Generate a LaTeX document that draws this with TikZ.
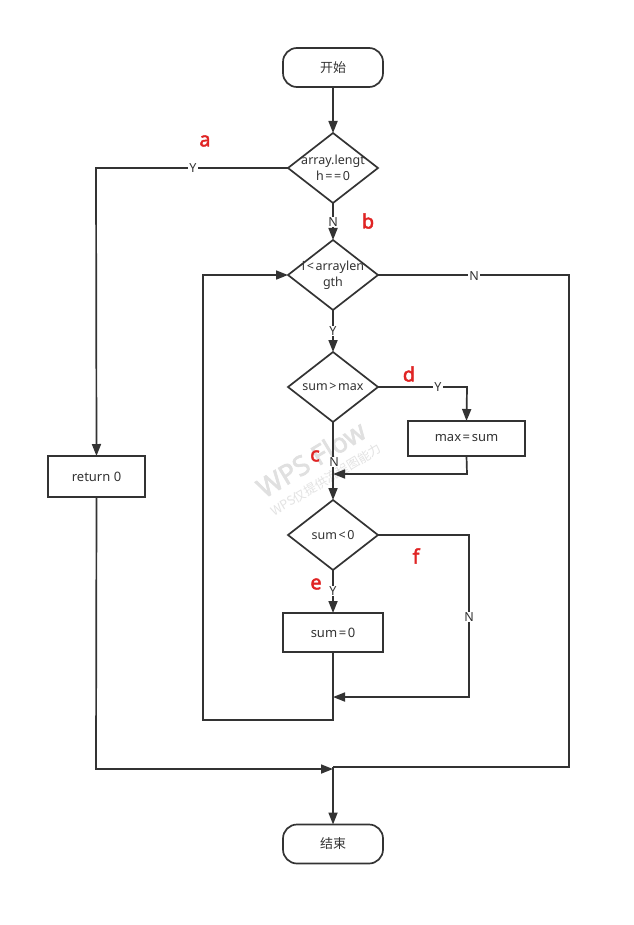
\documentclass[tikz,border=0pt]{standalone}
\usepackage{fontspec}
\setmainfont{Noto Sans}
\newfontfamily\cjk{Noto Sans CJK SC}
\newfontfamily\heavy{Noto Sans}[FakeBold=2.2]
\usetikzlibrary{shapes.geometric,arrows.meta}
\definecolor{ln}{HTML}{333333}
\definecolor{rd}{HTML}{E02424}
\newcommand{\opsp}[1]{\kern1.6pt#1\kern1.6pt}
\begin{document}
\begin{tikzpicture}[x=1pt,y=-1pt,
  every path/.style={draw=ln,line width=1.7pt},
  arr/.style={-{Triangle[length=12pt,width=9pt]}},
  term/.style={draw=ln,line width=1.7pt,rounded corners=14pt,minimum width=100pt,minimum height=39pt,inner sep=0pt,outer sep=0pt,font=\cjk\fontsize{13}{14}\selectfont,text=ln},
  proc/.style={draw=ln,line width=1.7pt,minimum height=39pt,inner sep=0pt,outer sep=0pt,font=\fontsize{13}{14}\selectfont,text=ln},
  dia/.style={draw=ln,line width=1.7pt,diamond,minimum width=90pt,minimum height=70pt,inner sep=0pt,outer sep=0pt},
  dtxt/.style={draw=none,align=center,font=\fontsize{12.5}{16}\selectfont,text=ln,inner sep=0pt},
  lab/.style={draw=none,fill=white,inner sep=1pt,font=\fontsize{12.5}{14}\selectfont,text=ln},
  red/.style={draw=none,text=rd,font=\heavy\fontsize{20}{21}\selectfont,inner sep=0pt},
  wm/.style={draw=none,rotate=31,inner sep=0pt}
]
\useasboundingbox[fill=white,draw=none] (0,0) rectangle (633,925);

% watermark
\node[wm,text=black!12,font=\heavy\fontsize{27}{28}\selectfont] (wm1) at (311,459) {WPS Flow};
\node[wm,text=black!11,font=\cjk\fontsize{12.5}{13}\selectfont] (wm2) at (326,480) {WPS仅提供流程图能力};

% nodes
\node[term] (start) at (333,67.5) {开始};
\node[dia] (d1) at (333,168) {};
\node[dtxt] (t1) at (333,168) {array.lengt\\h\opsp{=}=\kern1.6pt0};
\node[dia] (d2) at (333,275) {};
\node[dtxt] (t2) at (333,275) {i\opsp{<}arraylen\\gth};
\node[dia] (d3) at (333,387) {};
\node[dtxt] (t3) at (333,387) {sum\opsp{>}max};
\node[proc,minimum width=117pt,minimum height=35pt] (ms) at (466.5,438.5) {max\opsp{=}sum};
\node[dia] (d4) at (333,535) {};
\node[dtxt] (t4) at (333,535) {sum\opsp{<}0};
\node[proc,minimum width=100pt] (s0) at (333,632.5) {sum\opsp{=}0};
\node[proc,minimum width=97pt,minimum height=41pt] (ret) at (96.5,476.5) {return 0};
\node[term] (end) at (333,844) {结束};

% corner coordinates
\coordinate (ya) at (96,168);
\coordinate (na) at (569,275);
\coordinate (nb) at (569,767);
\coordinate (m1) at (333,767);
\coordinate (rb) at (96,769);
\coordinate (m2) at (333,769);
\coordinate (yd) at (467,387);
\coordinate (mb1) at (467,474);
\coordinate (mb2) at (333,474);
\coordinate (nf1) at (469,535);
\coordinate (nf2) at (469,697);
\coordinate (nf3) at (333,697);
\coordinate (lb1) at (333,720);
\coordinate (lb2) at (203,720);
\coordinate (lb3) at (203,275);

% connectors
\draw[arr] (start.south) -- (d1.north);
\draw[arr] (d1.west) -- (ya) -- (ret.north);
\draw[arr] (d1.south) -- (d2.north);
\draw (d2.east) -- (na) -- (nb) -- (m1);
\draw[arr] (ret.south) -- (rb) -- (m2);
\draw[arr] (m1) -- (end.north);
\draw[arr] (d2.south) -- (d3.north);
\draw[arr] (d3.east) -- (yd) -- (ms.north);
\draw[arr] (ms.south) -- (mb1) -- (mb2);
\draw[arr] (d3.south) -- (d4.north);
\draw[arr] (d4.south) -- (s0.north);
\draw[arr] (d4.east) -- (nf1) -- (nf2) -- (nf3);
\draw[arr] (s0.south) -- (lb1) -- (lb2) -- (lb3) -- (d2.west);

% edge labels
\node[lab] (ly1) at (193,168) {Y};
\node[lab] (ln1) at (333,222) {N};
\node[lab] (ln2) at (474,276) {N};
\node[lab] (ly2) at (333,331) {Y};
\node[lab] (ly3) at (438,387) {Y};
\node[lab] (ln3) at (334,462) {N};
\node[lab] (ly4) at (333,591) {Y};
\node[lab] (ln4) at (469,617) {N};

% red letters
\node[red] (ra) at (205,141) {a};
\node[red] (rb2) at (368,221) {b};
\node[red] (rc) at (315,456) {c};
\node[red] (rdd) at (409,374) {d};
\node[red] (re) at (316,584) {e};
\node[red] (rf) at (416,556) {f};
\end{tikzpicture}
\end{document}
